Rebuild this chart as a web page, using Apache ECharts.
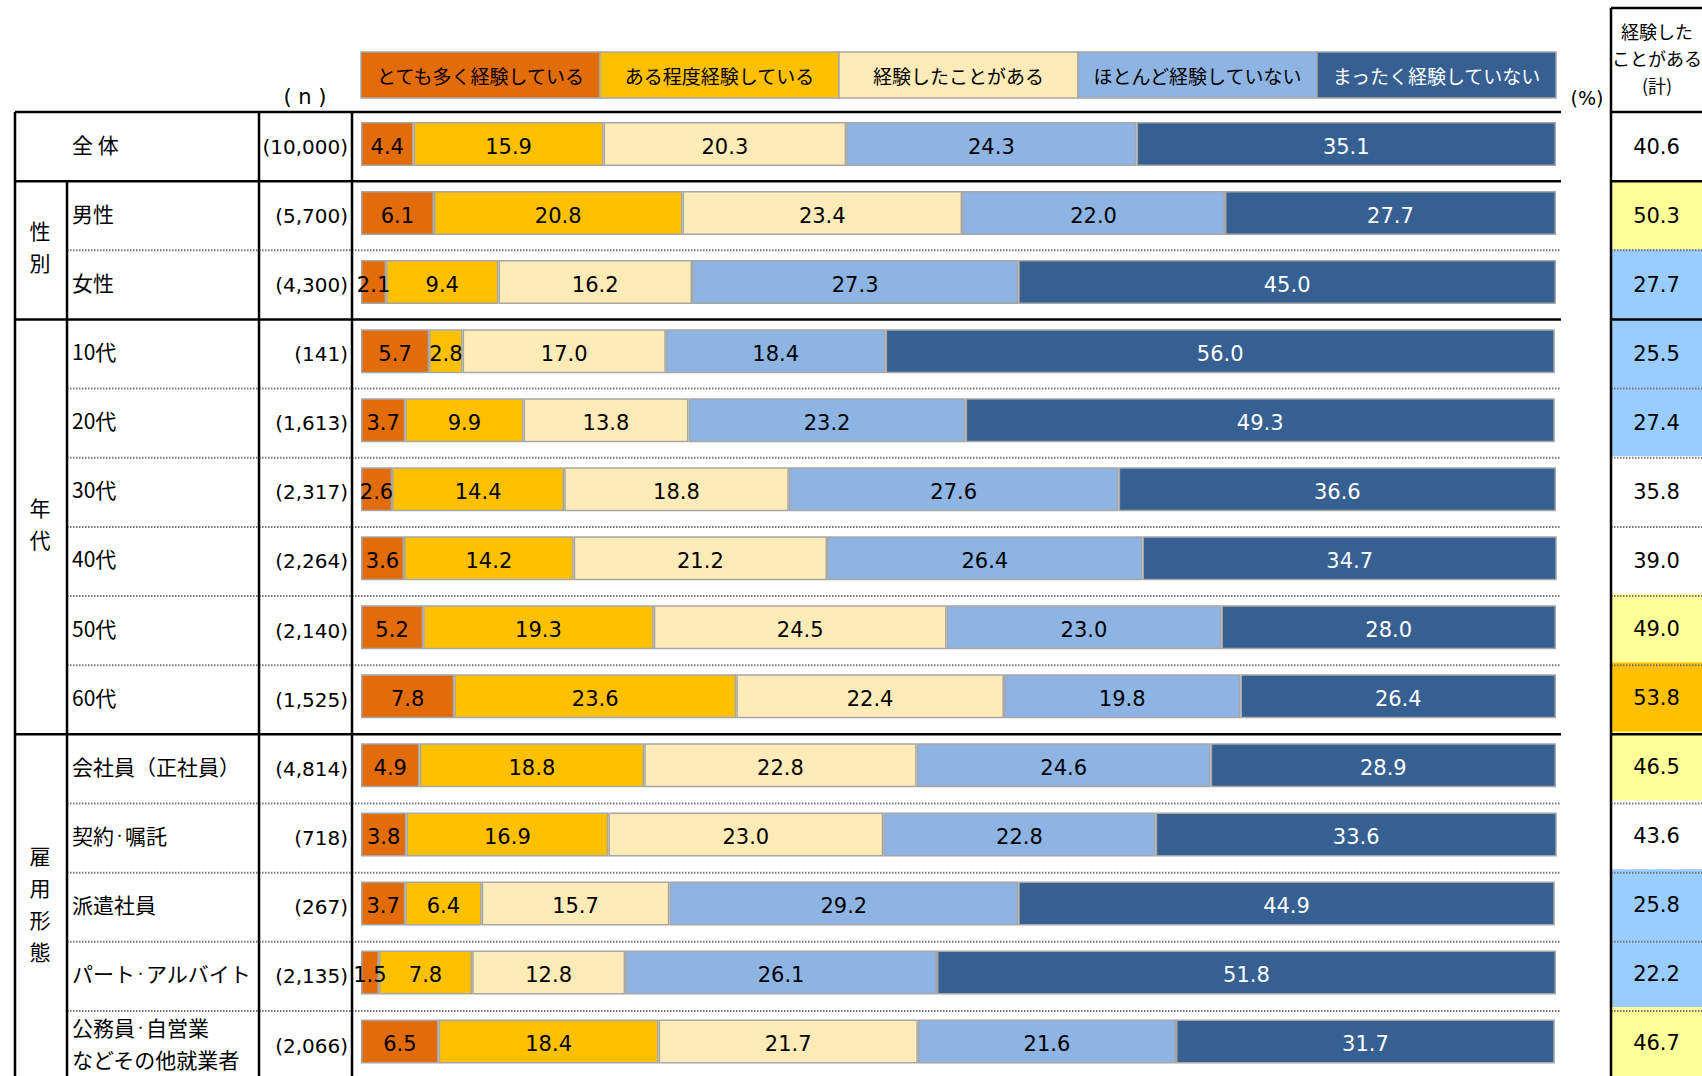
<!DOCTYPE html>
<html>
<head>
<meta charset="utf-8">
<script src="https://cdn.jsdelivr.net/npm/echarts@6/dist/echarts.min.js"></script>
<style>
  html, body { margin: 0; padding: 0; background: #fff; }
  #chart { width: 1702px; height: 1076px; }
</style>
</head>
<body>
<div id="chart"></div>
<script>
// 回答区分
const answerNames = ['とても多く経験している', 'ある程度経験している', '経験したことがある', 'ほとんど経験していない', 'まったく経験していない']
const answerColors = ['#E26B0A', '#FFC000', '#FFEBB7', '#8DB4E2', '#366092']
const labelColors = ['#000', '#000', '#000', '#000', '#fff']

// 行ラベル
const rowLabels = ['全 体', '男性', '女性', '10代', '20代', '30代', '40代', '50代', '60代',
  '会社員（正社員）', '契約・嘱託', '派遣社員', 'パート・アルバイト', '公務員・自営業\nなどその他就業者']
const rowN = ['(10,000)', '(5,700)', '(4,300)', '(141)', '(1,613)', '(2,317)', '(2,264)', '(2,140)', '(1,525)',
  '(4,814)', '(718)', '(267)', '(2,135)', '(2,066)']
const groupNames = ['', '性別', '年代', '雇用形態']
const groupSizes = [1, 2, 6, 5]

// 値 (%)
const veryMany = [4.4, 6.1, 2.1, 5.7, 3.7, 2.6, 3.6, 5.2, 7.8, 4.9, 3.8, 3.7, 1.5, 6.5]
const someWhat = [15.9, 20.8, 9.4, 2.8, 9.9, 14.4, 14.2, 19.3, 23.6, 18.8, 16.9, 6.4, 7.8, 18.4]
const once = [20.3, 23.4, 16.2, 17.0, 13.8, 18.8, 21.2, 24.5, 22.4, 22.8, 23.0, 15.7, 12.8, 21.7]
const rarely = [24.3, 22.0, 27.3, 18.4, 23.2, 27.6, 26.4, 23.0, 19.8, 24.6, 22.8, 29.2, 26.1, 21.6]
const never = [35.1, 27.7, 45.0, 56.0, 49.3, 36.6, 34.7, 28.0, 26.4, 28.9, 33.6, 44.9, 51.8, 31.7]
const experiencedTotal = [40.6, 50.3, 27.7, 25.5, 27.4, 35.8, 39.0, 49.0, 53.8, 46.5, 43.6, 25.8, 22.2, 46.7]

// レイアウト
const GRID_LEFT = 361
const GRID_W = 1195
const GRID_TOP = 112
const ROW_H = 69.15
const GRID_H = ROW_H * rowLabels.length
const BAR_SHIFT = -2.5
const SUM_LEFT = 1611
const LINE_END = 1561

const NUM_FONT = '21px "DejaVu Sans", Verdana, sans-serif'
const JP_FONT = '21px "Noto Sans CJK JP", sans-serif'
const DOT_FONT = '11px "Noto Sans CJK JP", sans-serif'

const chart = echarts.init(document.getElementById('chart'), null, { renderer: 'svg' })

const seriesValues = [veryMany, someWhat, once, rarely, never]
const barSeries = seriesValues.map((vals, i) => ({
  name: answerNames[i],
  type: 'bar',
  stack: 'total',
  barWidth: 44,
  xAxisIndex: 0,
  yAxisIndex: 0,
  data: vals,
  itemStyle: { color: answerColors[i], borderColor: '#A6A6A6', borderWidth: 1.5 },
  label: {
    show: true,
    position: 'inside',
    color: labelColors[i],
    fontFamily: '"DejaVu Sans", Verdana, sans-serif',
    fontSize: 21,
    offset: [0, 3],
    formatter: p => p.value.toFixed(1)
  }
}))

// 表の罫線と文字
const graphic = []
const rowY = k => GRID_TOP + k * ROW_H
const hline = (x1, x2, y, solid) => graphic.push({
  type: 'line', z: 100,
  shape: { x1: x1, y1: y, x2: x2, y2: y },
  style: solid ? { stroke: '#000', lineWidth: 2.5 } : { stroke: '#777', lineWidth: 2, lineDash: [1.5, 1.5] }
})
const vline = (x, y1, y2) => graphic.push({
  type: 'line', z: 100,
  shape: { x1: x, y1: y1, x2: x, y2: y2 },
  style: { stroke: '#000', lineWidth: 2.5 }
})
const text = (x, y, str, font, align, fill, lh, rich) => graphic.push({
  type: 'text', z: 110, x: x, y: y,
  style: { text: str, font: font, fill: fill || '#000', align: align, verticalAlign: 'middle',
    textAlign: align, textVerticalAlign: 'middle', lineHeight: lh || 24, rich: rich }
})

const groupStarts = [0]
groupSizes.forEach((s, i) => groupStarts.push(groupStarts[i] + s))
for (let k = 0; k <= rowLabels.length; k++) {
  const solid = groupStarts.includes(k)
  hline(solid ? 15 : 67, LINE_END, rowY(k), solid)
  hline(SUM_LEFT, 1702, rowY(k), solid)
}
hline(SUM_LEFT, 1702, 8, true)
vline(15, GRID_TOP, rowY(rowLabels.length))
vline(67, rowY(1), rowY(rowLabels.length))
vline(259, GRID_TOP, rowY(rowLabels.length))
vline(352, GRID_TOP, rowY(rowLabels.length))
vline(SUM_LEFT, 8, rowY(rowLabels.length))

// 中黒は半角幅で描く
const labelRich = {
  n: { font: JP_FONT, fill: '#000', lineHeight: 32 },
  d: { font: DOT_FONT, fill: '#000', lineHeight: 32 }
}
rowLabels.forEach((lab, i) => {
  const cy = rowY(i) + ROW_H / 2
  const richText = lab.split('\n').map(line =>
    line.split('・').map(s => '{n|' + s + '}').join('{d|・}')).join('\n')
  text(72, cy - 3, richText, JP_FONT, 'left', '#000', 32, labelRich)
  text(348, cy, rowN[i], NUM_FONT.replace('21px', '20px'), 'right')
})

groupNames.forEach((g, i) => {
  if (!g) return
  const cy = (rowY(groupStarts[i]) + rowY(groupStarts[i + 1])) / 2
  text(40, cy - 4, g.split('').join('\n'), JP_FONT, 'center', '#000', 32)
})

text(305, 97, '( n )', NUM_FONT, 'center')
text(1587, 98, '(%)', '19px "DejaVu Sans", sans-serif', 'center')
text(1657, 58, '経験した\nことがある\n(計)', '18px "Noto Sans CJK JP", sans-serif', 'center', '#000', 27)

// 凡例ボックス
answerNames.forEach((name, i) => {
  const x0 = GRID_LEFT + GRID_W * i / answerNames.length
  const w = GRID_W / answerNames.length
  graphic.push({
    type: 'rect', z: 90,
    shape: { x: x0, y: 52, width: w, height: 46 },
    style: { fill: answerColors[i], stroke: '#A6A6A6', lineWidth: 1.5 }
  })
  text(x0 + w / 2, 75, name, '19px "Noto Sans CJK JP", sans-serif', 'center', labelColors[i])
})

const option = {
  animation: false,
  backgroundColor: '#fff',
  grid: [
    { left: GRID_LEFT, top: GRID_TOP + BAR_SHIFT, width: GRID_W, height: GRID_H },
    { left: SUM_LEFT, top: GRID_TOP, width: 1702 - SUM_LEFT + 2, height: GRID_H }
  ],
  xAxis: [
    { type: 'value', gridIndex: 0, min: 0, max: 100, show: false },
    { type: 'category', gridIndex: 1, data: ['計'], show: false }
  ],
  yAxis: [
    { type: 'category', gridIndex: 0, data: rowLabels, inverse: true, show: false },
    { type: 'category', gridIndex: 1, data: rowLabels, inverse: true, show: false }
  ],
  visualMap: {
    type: 'piecewise',
    show: false,
    seriesIndex: 5,
    dimension: 2,
    pieces: [
      { lt: 30.6, color: '#99CCFF' },
      { gte: 30.6, lt: 45.6, color: '#FFFFFF' },
      { gte: 45.6, lt: 50.6, color: '#FFFF99' },
      { gte: 50.6, color: '#FFC000' }
    ]
  },
  series: [
    ...barSeries,
    {
      name: '経験したことがある（計）',
      type: 'heatmap',
      xAxisIndex: 1,
      yAxisIndex: 1,
      data: experiencedTotal.map((v, i) => [0, i, v]),
      itemStyle: { borderWidth: 0 },
      label: {
        show: true,
        color: '#000',
        fontFamily: '"DejaVu Sans", Verdana, sans-serif',
        fontSize: 21,
        offset: [0, 1],
        formatter: p => p.value[2].toFixed(1)
      }
    }
  ],
  graphic: graphic
}

chart.setOption(option)
</script>
</body>
</html>
